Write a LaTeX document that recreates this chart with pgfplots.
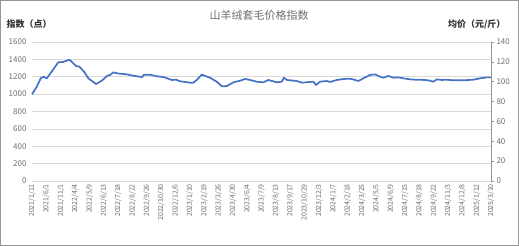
\documentclass[border=0pt]{standalone}
\usepackage{pgfplots}
\pgfplotsset{compat=1.18}
\usepackage{fontspec}
\setmainfont{Noto Sans CJK SC}
\definecolor{lineblue}{RGB}{68,114,196}
\definecolor{ticktxt}{RGB}{110,110,110}
\definecolor{gridc}{RGB}{217,217,217}
\definecolor{framec}{RGB}{150,150,150}
\begin{document}
\begin{tikzpicture}[x=1pt,y=1pt]
\useasboundingbox (0,0) rectangle (519,246);
\draw[framec,line width=0.8pt] (0.5,0.5) rectangle (518.5,245.5);
\begin{axis}[
  at={(32pt,65pt)}, anchor=south west,
  scale only axis, width=459pt, height=139pt,
  xmin=0, xmax=32, ymin=0, ymax=1600,
  ytick={0,200,...,1600},
  xtick={0,...,32},
  xticklabels={2021/1/11,2021/6/1,2021/11/1,2022/4/4,2022/5/9,2022/6/13,2022/7/18,2022/8/22,2022/9/26,2022/10/30,2022/12/6,2023/1/10,2023/2/19,2023/3/26,2023/4/30,2023/6/4,2023/7/9,2023/8/13,2023/9/17,2023/10/29,2023/12/3,2024/1/7,2024/2/18,2024/3/25,2024/5/5,2024/6/9,2024/7/15,2024/8/18,2024/9/22,2024/11/3,2024/12/8,2025/1/12,2025/3/10},
  x tick label style={rotate=90, anchor=east, font=\fontsize{7}{8}\selectfont, text=ticktxt, inner sep=1pt},
  y tick label style={font=\fontsize{8}{9}\selectfont, text=ticktxt},
  /pgf/number format/assume math mode=true,
  /pgf/number format/1000 sep={},
  ymajorgrids, grid style={gridc, line width=0.6pt},
  axis line style={draw=none},
  axis x line*=bottom,
  axis y line*=left,
  major tick length=0pt,
  xticklabel shift=2pt,
  yticklabel shift=2pt,
  clip=false,
]
\addplot[lineblue, line width=1.7pt, line join=round] coordinates {
(0,998)(0.33,1085)(0.61,1182)(0.79,1200)(1.03,1182)(1.37,1258)(1.83,1366)(2.18,1370)(2.60,1396)(2.77,1373)(3.07,1324)(3.30,1316)(3.63,1258)(3.93,1182)(4.46,1116)(4.86,1154)(5.25,1212)(5.44,1220)(5.67,1251)(5.91,1240)(6.14,1235)(6.60,1228)(7.06,1212)(7.53,1200)(7.65,1193)(7.81,1224)(8.23,1224)(8.70,1205)(9.16,1197)(9.74,1163)(10.04,1166)(10.32,1148)(11.02,1132)(11.25,1132)(11.49,1163)(11.83,1224)(12.41,1189)(12.88,1143)(13.23,1090)(13.58,1093)(14.04,1136)(14.50,1154)(14.85,1174)(15.20,1163)(15.67,1143)(16.13,1136)(16.48,1163)(17.06,1136)(17.41,1143)(17.57,1189)(17.76,1163)(18.46,1151)(18.81,1132)(19.39,1140)(19.62,1143)(19.80,1105)(20.08,1143)(20.55,1151)(20.78,1140)(21.25,1163)(21.71,1174)(22.18,1178)(22.52,1163)(22.75,1151)(23.10,1182)(23.57,1220)(23.92,1228)(24.27,1200)(24.50,1189)(24.85,1209)(25.20,1189)(25.54,1193)(25.89,1182)(26.36,1170)(26.71,1166)(27.06,1166)(27.64,1159)(27.99,1143)(28.22,1170)(28.57,1163)(28.92,1166)(29.38,1159)(30.08,1159)(30.77,1166)(31.24,1182)(31.71,1193)(31.99,1193)
};
\draw[gridc, line width=0.6pt] (axis cs:0,0) -- (axis cs:32,0);
\end{axis}
\begin{axis}[
  at={(32pt,65pt)}, anchor=south west,
  scale only axis, width=459pt, height=139pt,
  xmin=0, xmax=32, ymin=0, ymax=140,
  ytick={0,20,...,140},
  axis x line=none,
  axis y line*=right,
  y axis line style={draw=framec, line width=0.6pt},
  ytick style={draw=framec, line width=0.6pt},
  tick align=outside, major tick length=3pt,
  y tick label style={font=\fontsize{8}{9}\selectfont, text=ticktxt},
  /pgf/number format/assume math mode=true,
  yticklabel shift=-1pt,
]
\end{axis}
\node[anchor=center, text=ticktxt, font=\fontsize{11}{12}\selectfont] at (259,231) {山羊绒套毛价格指数};
\node[anchor=west, text=black!80, font=\fontsize{9}{10}\selectfont\bfseries] at (3,222) {指数（点）};
\node[anchor=east, text=black!80, font=\fontsize{9}{10}\selectfont\bfseries] at (509,222) {均价（元/斤）};
\end{tikzpicture}
\end{document}
